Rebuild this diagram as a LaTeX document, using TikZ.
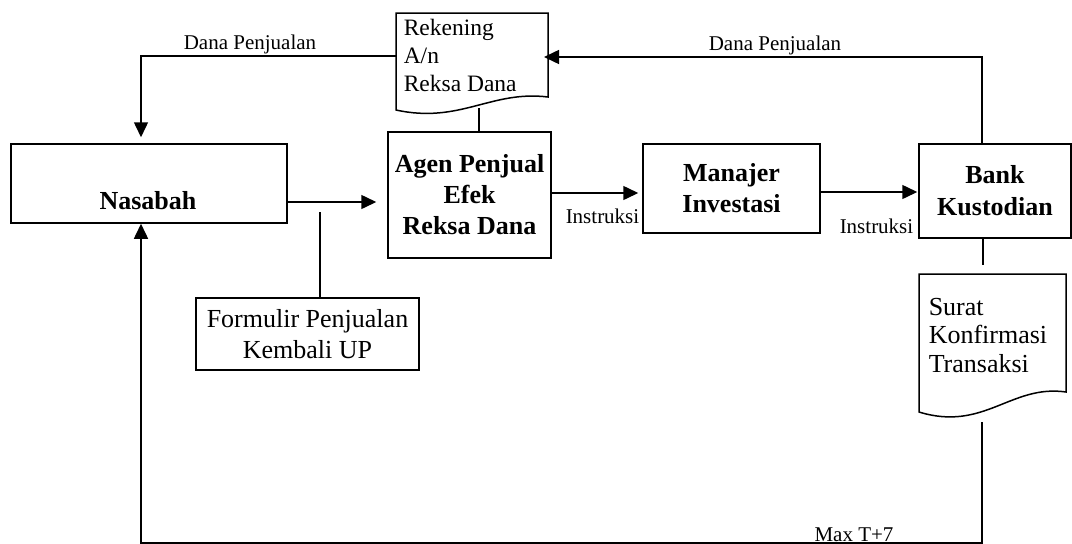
\documentclass[tikz,border=0pt]{standalone}
\usepackage{fontspec}
\setmainfont{Liberation Serif}
\usetikzlibrary{arrows.meta}
\begin{document}
\begin{tikzpicture}[x=1pt,y=-1pt,line width=1.5pt,
  box/.style={draw,line width=1.5pt,inner sep=0pt,align=center},
  bftext/.style={font=\fontsize{26}{31}\selectfont\bfseries},
  doctext/.style={font=\fontsize{23.5}{28}\selectfont,anchor=base west,inner sep=0pt},
  doctextb/.style={font=\fontsize{26}{28.5}\selectfont,anchor=base west,inner sep=0pt},
  lbl/.style={font=\fontsize{21}{25}\selectfont,anchor=base,inner sep=0pt},
  arr/.style={-{Triangle[length=15pt,width=14pt]}}]
\useasboundingbox (0,0) rectangle (1072,544);

% boxes
\node[box,minimum width=276pt,minimum height=79pt] (nas) at (149,183.5) {};
\node[bftext,anchor=base,inner sep=0pt] (nastext) at (148,209) {Nasabah};
\node[box,bftext,minimum width=163pt,minimum height=126pt] (agen) at (469.5,195) {Agen Penjual\\Efek\\Reksa Dana};
\node[box,bftext,minimum width=177pt,minimum height=89pt] (man) at (731.5,188.5) {Manajer\\Investasi};
\node[box,bftext,minimum width=152pt,minimum height=94pt,font=\fontsize{26}{32}\selectfont\bfseries] (bank) at (995,191) {Bank\\Kustodian};
\node[box,minimum width=223pt,minimum height=72pt,font=\fontsize{26}{31}\selectfont] (form) at (307.5,334) {Formulir Penjualan\\Kembali UP};

% document: Rekening
\draw (548,97) .. controls (491,90) and (460,124) .. (396,110) -- (396,13) -- (548,13) -- cycle;
\node[doctext] (r1) at (403,35) {Rekening};
\node[doctext] (r2) at (403,63) {A/n};
\node[doctext] (r3) at (403,91) {Reksa Dana};
\coordinate (rekB) at (479,108);
\coordinate (rekL) at (396,56);
\coordinate (rekR) at (548,57);

% document: Surat
\draw (1066,392) .. controls (1011,384) and (984,432) .. (919,412) -- (919,274) -- (1066,274) -- cycle;
\node[doctextb] (s1) at (928,315) {Surat};
\node[doctextb] (s2) at (928,343) {Konfirmasi};
\node[doctextb] (s3) at (928,372) {Transaksi};
\coordinate (surT) at (983,265);
\coordinate (surB) at (982,422);
\coordinate (bot) at (982,543);

% connectors
\coordinate (ay1) at (0,202);
\draw[arr,shorten >=11pt] (nas.east |- ay1) -- (agen.west |- ay1);
\coordinate (fl) at (320,212);
\draw (fl) -- (fl |- form.north);
\draw (rekB) -- (rekB |- agen.north);
\coordinate (ay2) at (0,193);
\draw[arr,shorten >=4pt] (agen.east |- ay2) -- (man.west |- ay2);
\coordinate (ay3) at (0,192);
\draw[arr,shorten >=1pt] (man.east |- ay3) -- (bank.west |- ay3);
\draw[arr,shorten >=6pt] (rekL) -| ([xshift=-8pt]nas.north);
\draw[arr,shorten >=-4pt] ([xshift=-13pt]bank.north) |- (rekR);
\draw (surT |- bank.south) -- (surT);
\draw[arr] (surB) -- (bot) -| ([xshift=-8pt]nas.south);

% labels
\node[lbl] (l1) at (250,49) {Dana Penjualan};
\node[lbl] (l2) at (775,50) {Dana Penjualan};
\node[lbl] (l3) at (602.5,223) {Instruksi};
\node[lbl] (l4) at (876.5,233) {Instruksi};
\node[lbl] (l5) at (854,541) {Max T+7};
\end{tikzpicture}
\end{document}
